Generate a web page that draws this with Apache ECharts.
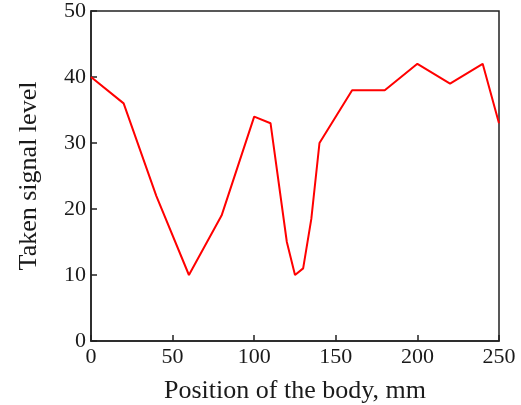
<!DOCTYPE html>
<html>
<head>
<meta charset="utf-8">
<script src="https://cdn.jsdelivr.net/npm/echarts@6/dist/echarts.min.js"></script>
<style>
  html, body { margin: 0; padding: 0; background: #fff; }
  #chart { width: 521px; height: 405px; }
</style>
</head>
<body>
<div id="chart"></div>
<script>
// position along the body, mm
const positions = [0, 20, 40, 60, 80, 100, 110, 120, 125, 130, 135, 140, 160, 180, 200, 220, 240, 250]
// signal level
const signalLevel = [40, 36, 22, 10, 19, 34, 33, 15, 10, 11, 18.5, 30, 38, 38, 42, 39, 42, 33]
const xTicks = [0, 50, 100, 150, 200, 250]
const yTicks = [0, 10, 20, 30, 40, 50]

const points = positions.map((p, i) => [p, signalLevel[i]])
const serif = 'Liberation Serif'

const myChart = echarts.init(document.getElementById('chart'))
myChart.setOption({
  animation: false,
  grid: {
    left: 91,
    right: 22,
    top: 11,
    bottom: 64,
    outerBoundsMode: 'none',
    show: true,
    borderColor: '#222',
    borderWidth: 1.5
  },
  xAxis: {
    type: 'value',
    min: xTicks[0],
    max: xTicks[xTicks.length - 1],
    interval: 50,
    name: 'Position of the body, mm',
    nameLocation: 'middle',
    nameGap: 37,
    nameTextStyle: { fontFamily: serif, fontSize: 26, color: '#1a1a1a' },
    axisLine: { show: true, lineStyle: { color: '#222', width: 1.5 } },
    axisTick: { show: true, inside: true, length: 6, lineStyle: { color: '#222', width: 1.5 } },
    axisLabel: { fontFamily: serif, fontSize: 22, color: '#1a1a1a', margin: 5 },
    splitLine: { show: false }
  },
  yAxis: {
    type: 'value',
    min: yTicks[0],
    max: yTicks[yTicks.length - 1],
    interval: 10,
    name: 'Taken signal level',
    nameLocation: 'middle',
    nameGap: 49,
    nameTextStyle: { fontFamily: serif, fontSize: 26, color: '#1a1a1a' },
    axisLine: { show: true, lineStyle: { color: '#222', width: 1.5 } },
    axisTick: { show: true, inside: true, length: 6, lineStyle: { color: '#222', width: 1.5 } },
    axisLabel: { fontFamily: serif, fontSize: 22, color: '#1a1a1a', margin: 5 },
    splitLine: { show: false }
  },
  series: [{
    type: 'line',
    data: points,
    showSymbol: false,
    lineStyle: { color: '#ff0000', width: 2 }
  }]
})
</script>
</body>
</html>
